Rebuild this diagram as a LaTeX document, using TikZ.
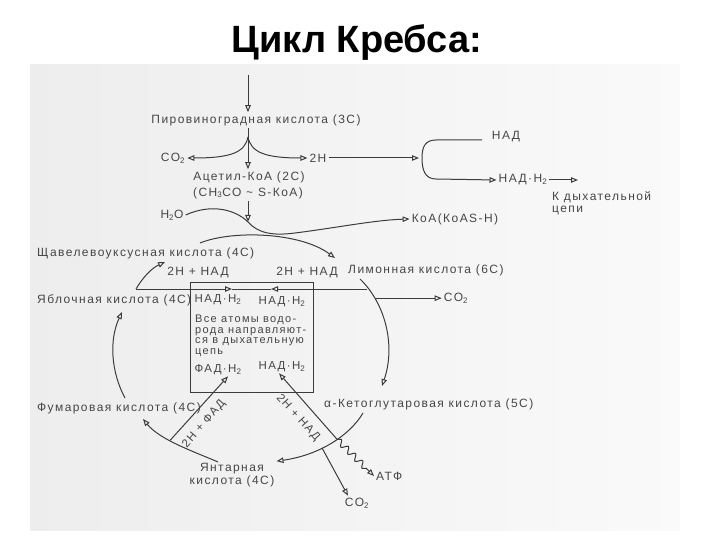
\documentclass[tikz,border=0pt]{standalone}
\usepackage{fontspec}
\setmainfont{Liberation Sans}
\newfontfamily\scanfont{Liberation Sans}[LetterSpace=12]
\usetikzlibrary{arrows.meta, decorations.pathmorphing}
\definecolor{inkgray}{RGB}{60,60,60}
\definecolor{txtgray}{RGB}{70,70,70}

\begin{document}
\begin{tikzpicture}[x=1pt, y=-1pt,
    >={Triangle[open, length=7pt, width=5.5pt]},
    lbl/.style={font=\scanfont\fontsize{12}{12.5}\selectfont, text=txtgray, inner sep=2pt},
    boxlbl/.style={font=\scanfont\fontsize{11.5}{12}\selectfont, text=txtgray, inner sep=1pt},
    notetxt/.style={font=\scanfont\fontsize{11}{10.5}\selectfont, text=txtgray, inner sep=0pt},
    slab/.style={font=\scanfont\fontsize{11.5}{12}\selectfont, text=txtgray, inner sep=1pt},
    flow/.style={->, inkgray, line width=1pt},
    wire/.style={-, inkgray, line width=1pt},
    wavy/.style={->, inkgray, line width=1pt, decorate,
        decoration={snake, amplitude=3pt, segment length=10pt, post length=7pt}},
]
    \useasboundingbox (0,0) rectangle (720,540);
    \shade[left color=black!7, right color=black!2] (30,65) rectangle (680,530);

    \node[font=\bfseries\fontsize{38}{40}\selectfont] (title) at (357,43) {Цикл Кребса:};

    % --- пируват и ацетил-КоА ---
    \coordinate (feed) at (248,75);
    \coordinate (fork) at (248,137);
    \coordinate (clamp) at (419,158);
    \coordinate (nadtail) at (482,140);
    \coordinate (toresp) at (578,180);
    \coordinate (mix) at (248,222);

    \node[lbl] (pvk)   at (256,120) {Пировиноградная кислота (3С)};
    \node[lbl] (acet)  at (249,177) {Ацетил-КоА (2С)};
    \node[lbl] (acetb) at (248,193) {(СН\textsubscript{3}СО \textasciitilde{} S-КоА)};
    \node[lbl] (co2a)  at (173,158) {СО\textsubscript{2}};
    \node[lbl] (hh)    at (318,158) {2Н};
    \node[lbl] (nad)   at (506,137) {НАД};
    \node[lbl] (nadh)  at (523,180) {НАД·Н\textsubscript{2}};
    \node[lbl, align=left, anchor=north west, inner sep=0pt] (resp) at (552,191) {К дыхательной\\цепи};
    \node[lbl] (h2o)   at (172,215) {Н\textsubscript{2}О};
    \node[lbl] (koa)   at (455,219) {КоА(КоАS-Н)};

    \draw[flow] (feed) -- (pvk.north -| feed);
    \draw[flow] (pvk.south -| fork) -- (acet.north -| fork);
    \draw[flow] (fork) .. controls (245,152) and (232,158) .. (co2a.east);
    \draw[flow] (fork) .. controls (251,152) and (264,158) .. (hh.west);
    \draw[flow] (hh.east) -- (clamp);
    \draw[flow] (nadtail) -- (436,140) .. controls (425,140) and (422,147) .. (422,158)
                .. controls (422,170) and (425,179) .. (436,179) -- (nadh.west);
    \draw[flow] (nadh.east) -- (toresp);

    \draw[flow] (acetb.south -| mix) -- (mix);
    \draw[flow] (h2o.east) .. controls (212,203) and (236,210) .. (mix)
                .. controls (258,233) and (272,236) .. (295,233)
                .. controls (335,228) and (375,220) .. (koa.west);

    % --- кислоты цикла ---
    \node[lbl, anchor=west] (shch) at (35,253)  {Щавелевоуксусная кислота (4С)};
    \node[lbl, anchor=west] (lim)  at (346,270) {Лимонная кислота (6С)};
    \node[lbl, anchor=west] (yabl) at (35,300)  {Яблочная кислота (4С)};
    \node[lbl, anchor=west] (fum)  at (35,408)  {Фумаровая кислота (4С)};
    \node[lbl, anchor=west] (keto) at (322,404) {α-Кетоглутаровая кислота (5С)};
    \node[lbl, align=center] (yant) at (232,475) {Янтарная\\кислота (4С)};
    \node[lbl] (co2b) at (456,298) {СО\textsubscript{2}};
    \node[lbl, anchor=west] (atp) at (374,476) {АТФ};
    \node[lbl] (co2c) at (357,503) {СО\textsubscript{2}};

    % --- блок НАД / ФАД ---
    \node[draw=inkgray, line width=1pt, minimum width=123pt, minimum height=110pt,
          inner sep=0pt] (box) at (251.5,337) {};
    \node[boxlbl] (nh1) at (218,300) {НАД·Н\textsubscript{2}};
    \node[boxlbl] (nh2) at (282,302) {НАД·Н\textsubscript{2}};
    \node[notetxt, align=left, anchor=north west] (note) at (195,315)
        {Все атомы водо-\\рода направляют-\\ся в дыхательную\\цепь};
    \node[boxlbl] (fad) at (218,370) {ФАД·Н\textsubscript{2}};
    \node[boxlbl] (nh3) at (282,367) {НАД·Н\textsubscript{2}};
    \node[lbl] (hnL) at (198,273) {2Н + НАД};
    \node[lbl] (hnR) at (307,273) {2Н + НАД};

    \coordinate (s0) at (200,243);
    \coordinate (s1) at (335,258);
    \coordinate (yo) at (136,289);
    \coordinate (s2) at (165,262);
    \coordinate (lim0) at (360,279);
    \coordinate (k1) at (382,386);
    \coordinate (k0) at (363,413);
    \coordinate (y0) at (218,462);
    \coordinate (f1) at (143,419);
    \coordinate (f0) at (125,398);
    \coordinate (a1) at (122,312);
    \coordinate (tipL) at (232,289);
    \coordinate (tipR) at (271,289);

    \draw[flow] (s0) .. controls (232,230) and (300,232) .. (s1);
    \draw[flow] (yo) .. controls (143,277) and (152,268) .. (s2);
    \draw[flow] (lim0) .. controls (385,303) and (396,345) .. (k1)
                coordinate[pos=0.1] (lk1) coordinate[pos=0.23] (lk2);
    \draw[flow] (k0) .. controls (350,435) and (320,455) .. (yant.north east)
                coordinate[pos=0.43] (ky) coordinate[pos=0.6] (kc);
    \draw[flow] (y0) .. controls (195,452) and (160,440) .. (f1)
                coordinate[pos=0.6] (yf);
    \draw[flow] (f0) .. controls (111,372) and (109,340) .. (a1);

    % --- водород в цепь ---
    \node[slab, rotate=49]  (lfad) at (204,424) {2Н + ФАД};
    \node[slab, rotate=-48] (lnad) at (298,418) {2Н + НАД};

    \draw[flow] (yo) -- (tipL);
    \draw[wire] (tipL) -- (tipR);
    \draw[flow] (yo -| lk1) -- (tipR);
    \draw[flow] (lk2) -- (co2b.west |- lk2);
    \draw[flow] (yf) -- ([xshift=10pt]fad.south);
    \draw[flow] (ky) -- ([xshift=-3pt]nh3.south);
    \draw[wavy] (ky) -- (atp.west);
    \draw[flow] (kc) -- ([xshift=-9pt]co2c.north);

\end{tikzpicture}
\end{document}
